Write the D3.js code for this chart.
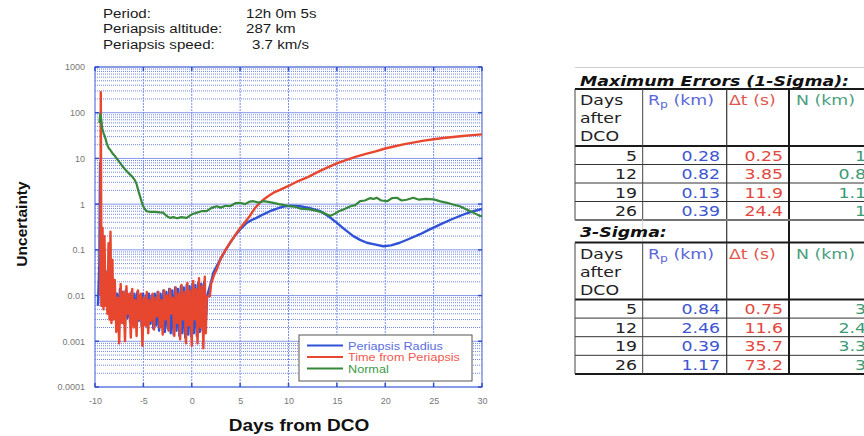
<!DOCTYPE html>
<html>
<head>
<meta charset="utf-8">
<script src="https://cdn.jsdelivr.net/npm/d3@7"></script>
<style>
  body { margin: 0; background: #fff; }
  svg { display: block; }
</style>
</head>
<body>
<svg id="chart" width="864" height="436"></svg>
<script>
// ---- Orbit summary ----
const infoLabels = ["Period:", "Periapsis altitude:", "Periapsis speed:"];
const infoValues = ["12h 0m 5s", "287 km", "3.7 km/s"];

// ---- Axis ticks ----
const xTicks = [-10, -5, 0, 5, 10, 15, 20, 25, 30];
const yTicks = [0.0001, 0.001, 0.01, 0.1, 1, 10, 100, 1000];
const yTickLabels = ["0.0001", "0.001", "0.01", "0.1", "1", "10", "100", "1000"];

// ---- Series: [days from DCO, 1-sigma uncertainty] ----
const radiusPts = [
  [-9.70, 0.006], [-9.55, 0.05], [-9.48, 8], [-9.42, 0.4], [-9.30, 0.006], [-9.15, 0.012],
  [-9.00, 0.008], [-8.85, 0.02], [-8.70, 0.035], [-8.58, 0.028], [-8.45, 0.008], [-8.30, 0.005],
  [-8.175, 0.0035], [-8.025, 0.014], [-7.875, 0.003], [-7.725, 0.011], [-7.575, 0.0026],
  [-7.425, 0.014], [-7.275, 0.0030], [-7.125, 0.012], [-6.975, 0.0024], [-6.825, 0.013],
  [-6.675, 0.0032], [-6.525, 0.010], [-6.375, 0.0026], [-6.225, 0.012], [-6.075, 0.0030],
  [-5.925, 0.011], [-5.775, 0.0022], [-5.625, 0.012], [-5.475, 0.0028], [-5.325, 0.010],
  [-5.175, 0.0021], [-5.025, 0.011], [-4.875, 0.0026], [-4.725, 0.010], [-4.575, 0.0020],
  [-4.425, 0.011], [-4.275, 0.0024], [-4.125, 0.010], [-3.975, 0.0019], [-3.825, 0.011],
  [-3.675, 0.0022], [-3.525, 0.012], [-3.375, 0.0017], [-3.225, 0.011], [-3.075, 0.0020],
  [-2.925, 0.013], [-2.775, 0.0016], [-2.625, 0.012], [-2.475, 0.0019], [-2.325, 0.014],
  [-2.175, 0.0015], [-2.025, 0.013], [-1.875, 0.0014], [-1.725, 0.015], [-1.575, 0.0017],
  [-1.425, 0.014], [-1.275, 0.0013], [-1.125, 0.016], [-0.975, 0.0015], [-0.825, 0.015],
  [-0.675, 0.0012], [-0.525, 0.017], [-0.375, 0.0014], [-0.225, 0.016], [-0.075, 0.0013],
  [0.075, 0.018], [0.225, 0.0015], [0.375, 0.017], [0.525, 0.0013], [0.675, 0.019],
  [0.825, 0.0016], [0.975, 0.018], [1.125, 0.0017], [1.275, 0.020], [1.425, 0.0020],
  [1.60, 0.010], [2.00, 0.020], [2.24, 0.032], [2.60, 0.045], [3.00, 0.065], [3.50, 0.10],
  [3.95, 0.14], [4.50, 0.21], [5.00, 0.28], [5.68, 0.39], [6.20, 0.45], [6.70, 0.50],
  [7.40, 0.60], [8.09, 0.70], [8.80, 0.80], [9.46, 0.88], [10.2, 0.92], [11.2, 0.90],
  [12.2, 0.82], [13.3, 0.70], [14.2, 0.53], [15.0, 0.39], [15.8, 0.28], [16.7, 0.20],
  [17.4, 0.165], [18.1, 0.143], [19.0, 0.13], [19.8, 0.12], [20.6, 0.125], [21.5, 0.143],
  [22.5, 0.175], [23.6, 0.22], [24.6, 0.28], [25.7, 0.36], [26.7, 0.45], [27.7, 0.55],
  [28.5, 0.64], [29.1, 0.70], [30.0, 0.79]
];

const timePts = [
  [-9.45, 0.01], [-9.40, 280], [-9.33, 0.006], [-9.22, 0.3], [-9.12, 0.005], [-9.02, 0.2],
  [-8.92, 0.006], [-8.82, 0.03], [-8.72, 0.004], [-8.60, 0.14], [-8.50, 0.003], [-8.40, 0.25],
  [-8.30, 0.0025], [-8.20, 0.06],
  [-8.10, 0.0030], [-7.95, 0.022], [-7.80, 0.0016], [-7.65, 0.009], [-7.50, 0.0009],
  [-7.35, 0.018], [-7.20, 0.0025], [-7.05, 0.012], [-6.90, 0.0010], [-6.75, 0.016],
  [-6.60, 0.0040], [-6.45, 0.011], [-6.30, 0.0012], [-6.15, 0.014], [-6.00, 0.0020],
  [-5.85, 0.008], [-5.70, 0.0013], [-5.55, 0.013], [-5.40, 0.0030], [-5.25, 0.011],
  [-5.10, 0.0008], [-4.95, 0.009], [-4.80, 0.0022], [-4.65, 0.012], [-4.50, 0.0015],
  [-4.35, 0.008], [-4.20, 0.0028], [-4.05, 0.011], [-3.90, 0.0018], [-3.75, 0.009],
  [-3.60, 0.0035], [-3.45, 0.012], [-3.30, 0.0020], [-3.15, 0.008], [-3.00, 0.0014],
  [-2.85, 0.013], [-2.70, 0.0030], [-2.55, 0.010], [-2.40, 0.0017], [-2.25, 0.014],
  [-2.10, 0.0040], [-1.95, 0.009], [-1.80, 0.0013], [-1.65, 0.015], [-1.50, 0.0025],
  [-1.35, 0.011], [-1.20, 0.0011], [-1.05, 0.017], [-0.90, 0.0030], [-0.75, 0.012],
  [-0.60, 0.0009], [-0.45, 0.019], [-0.30, 0.0022], [-0.15, 0.013], [0.00, 0.0008],
  [0.15, 0.021], [0.30, 0.0030], [0.45, 0.014], [0.60, 0.0009], [0.75, 0.024],
  [0.90, 0.0020], [1.05, 0.016], [1.20, 0.0007], [1.35, 0.026], [1.45, 0.0015],
  [1.55, 0.0095], [1.88, 0.0098], [2.00, 0.018], [2.30, 0.028], [2.58, 0.037], [3.00, 0.065],
  [3.50, 0.10], [3.95, 0.143], [4.50, 0.21], [5.00, 0.30], [5.50, 0.40], [6.00, 0.55],
  [6.50, 0.80], [7.00, 1.05], [7.50, 1.30], [8.00, 1.55], [8.50, 1.80], [9.00, 2.00],
  [10.0, 2.50], [11.0, 3.20], [12.0, 3.90], [13.0, 5.00], [14.0, 6.30], [15.0, 7.80],
  [16.0, 9.30], [17.0, 11.0], [18.0, 12.6], [19.0, 14.3], [20.0, 16.5], [21.0, 18.5],
  [22.0, 20.5], [23.0, 22.5], [24.0, 24.5], [25.0, 26.3], [26.0, 28.0], [27.0, 29.5],
  [28.0, 31.0], [29.0, 32.3], [30.0, 33.5]
];

const normalPts = [
  [-9.55, 60], [-9.45, 95], [-9.35, 70], [-9.25, 45], [-9.10, 35], [-8.97, 30], [-8.80, 22],
  [-8.60, 17], [-8.45, 15.7], [-8.20, 13], [-7.90, 11], [-7.60, 9], [-7.42, 8.0], [-7.10, 6.5],
  [-6.80, 5.5], [-6.50, 4.7], [-6.20, 4.1], [-5.90, 3.4], [-5.69, 2.7], [-5.50, 1.9],
  [-5.35, 1.5], [-5.10, 1.0], [-4.90, 0.80], [-4.66, 0.70], [-4.30, 0.68], [-3.80, 0.68],
  [-3.30, 0.66], [-2.94, 0.65], [-2.60, 0.55], [-2.25, 0.50], [-1.90, 0.52], [-1.50, 0.49],
  [-1.10, 0.52], [-0.52, 0.50], [0.00, 0.60], [0.51, 0.65], [1.00, 0.70], [1.54, 0.70],
  [2.00, 0.82], [2.58, 0.90], [3.00, 0.84], [3.50, 0.92], [3.95, 0.90], [4.50, 1.05],
  [4.99, 1.07], [5.50, 1.00], [6.00, 1.14], [6.36, 1.16], [6.90, 1.08], [7.40, 1.16],
  [7.90, 1.12], [8.43, 1.07], [9.00, 1.00], [9.60, 0.95], [10.16, 0.90], [10.7, 0.88],
  [11.2, 0.80], [12.2, 0.77], [12.8, 0.72], [13.6, 0.65], [14.3, 0.55], [14.8, 0.62],
  [15.2, 0.70], [15.8, 0.78], [16.4, 0.90], [16.9, 0.95], [17.4, 1.16], [17.9, 1.20],
  [18.4, 1.35], [18.8, 1.30], [19.1, 1.38], [19.6, 1.20], [20.2, 1.16], [20.7, 1.35],
  [21.2, 1.38], [21.7, 1.20], [22.2, 1.25], [22.9, 1.38], [23.5, 1.25], [24.2, 1.30],
  [25.0, 1.27], [25.7, 1.15], [26.4, 1.07], [27.0, 0.98], [27.7, 0.90], [28.3, 0.78],
  [28.8, 0.70], [29.3, 0.62], [29.8, 0.55], [30.0, 0.55]
];

const seriesNames = ["Periapsis Radius", "Time from Periapsis", "Normal"];
const seriesColors = ["#2f52d6", "#e8472f", "#36883a"];
const legendTextColors = ["#5a6ee0", "#ee5a50", "#3f9a4a"];

// ---- Error table ----
const tableDays = ["5", "12", "19", "26"];
const oneSigmaRp = ["0.28", "0.82", "0.13", "0.39"];
const oneSigmaDt = ["0.25", "3.85", "11.9", "24.4"];
const oneSigmaN = ["1", "0.8", "1.1", "1"];
const threeSigmaRp = ["0.84", "2.46", "0.39", "1.17"];
const threeSigmaDt = ["0.75", "11.6", "35.7", "73.2"];
const threeSigmaN = ["3", "2.4", "3.3", "3"];

const svg = d3.select("#chart");
const sans = "'Liberation Sans', Arial, sans-serif";
const verdana = "'DejaVu Sans', Verdana, sans-serif";

// text with a horizontal stretch
function stext(g, x, y, str, opts = {}) {
  const t = g.append("text")
    .attr("transform", `translate(${x},${y}) scale(${opts.sx || 1},1)`)
    .attr("font-family", opts.family || sans)
    .attr("font-size", opts.size || 13)
    .attr("fill", opts.fill || "#222")
    .attr("text-anchor", opts.anchor || "start");
  if (opts.weight) t.attr("font-weight", opts.weight);
  if (opts.style) t.attr("font-style", opts.style);
  t.text(str);
  return t;
}

// ---- Header block ----
const info = svg.append("g");
infoLabels.forEach((s, i) => {
  stext(info, 103, 18 + i * 15.3, s, { size: 13.5, sx: 1.12, fill: "#1a1a1a" });
});
const infoX = [246, 246, 252];
infoValues.forEach((s, i) => {
  stext(info, infoX[i], 18 + i * 15.3, s, { size: 13.5, sx: 1.12, fill: "#1a1a1a" });
});

// ---- Plot ----
const x = d3.scaleLinear().domain([-10, 30]).range([95, 482]);
const y = d3.scaleLog().domain([0.0001, 1000]).range([387, 67]);
const [x0, x1] = x.range();
const [yb, yt] = y.range();

const grid = svg.append("g");
// minor horizontal grid
const minor = [];
yTicks.slice(0, -1).forEach(d => { for (let k = 2; k <= 9; k++) minor.push(d * k); });
grid.selectAll("line.minor").data(minor).join("line")
  .attr("x1", x0).attr("x2", x1)
  .attr("y1", d => y(d)).attr("y2", d => y(d))
  .attr("stroke", "#7088e4").attr("stroke-width", 1)
  .attr("stroke-dasharray", "1,1");
// decade lines
grid.selectAll("line.major").data(yTicks).join("line")
  .attr("x1", x0).attr("x2", x1)
  .attr("y1", d => y(d)).attr("y2", d => y(d))
  .attr("stroke", "#8598e8").attr("stroke-width", 1);
// vertical grid
grid.selectAll("line.vert").data(xTicks.slice(1, -1)).join("line")
  .attr("x1", d => x(d)).attr("x2", d => x(d))
  .attr("y1", yt).attr("y2", yb)
  .attr("stroke", "#7a8fe6").attr("stroke-width", 1)
  .attr("stroke-dasharray", "2,1");

// frame
svg.append("rect").attr("x", x0).attr("y", yt).attr("width", x1 - x0).attr("height", yb - yt)
  .attr("fill", "none").attr("stroke", "#6c82de").attr("stroke-width", 1.3);

// inner tick marks
const tk = svg.append("g").attr("stroke", "#2f4fcf").attr("stroke-width", 1.5);
yTicks.forEach(d => {
  tk.append("line").attr("x1", x0).attr("x2", x0 + 4).attr("y1", y(d)).attr("y2", y(d));
  tk.append("line").attr("x1", x1 - 4).attr("x2", x1).attr("y1", y(d)).attr("y2", y(d));
});
xTicks.forEach(d => {
  tk.append("line").attr("x1", x(d)).attr("x2", x(d)).attr("y1", yb).attr("y2", yb - 4);
  tk.append("line").attr("x1", x(d)).attr("x2", x(d)).attr("y1", yt).attr("y2", yt + 4);
});

// axes (labels only)
const yAxis = d3.axisLeft(y).tickValues(yTicks).tickSize(0).tickPadding(10)
  .tickFormat((d, i) => yTickLabels[i]);
const gy = svg.append("g").attr("transform", `translate(${x0},0)`).call(yAxis);
const xAxis = d3.axisBottom(x).tickValues(xTicks).tickSize(0).tickPadding(11)
  .tickFormat(d => String(d));
const gx = svg.append("g").attr("transform", `translate(0,${yb})`).call(xAxis);
[gx, gy].forEach(g => {
  g.select(".domain").remove();
  g.selectAll("text").attr("font-family", sans).attr("font-size", 9).attr("fill", "#777");
});

// axis titles
stext(svg, 299, 431, "Days from DCO", { size: 17, weight: "bold", anchor: "middle", sx: 1.12, fill: "#111" });
svg.append("text")
  .attr("transform", "translate(27,224) rotate(-90)")
  .attr("text-anchor", "middle").attr("font-family", sans)
  .attr("font-size", 15.5).attr("font-weight", "bold").attr("fill", "#111")
  .text("Uncertainty");

// data lines
const line = d3.line().x(d => x(d[0])).y(d => y(d[1]));
const plot = svg.append("g");
const widths = [2.4, 2.4, 2.2];
[radiusPts, timePts, normalPts].forEach((pts, i) => {
  plot.append("path").datum(pts)
    .attr("d", line)
    .attr("fill", "none")
    .attr("stroke", seriesColors[i])
    .attr("stroke-width", widths[i])
    .attr("stroke-linejoin", "round");
});

// legend
const lg = svg.append("g");
lg.append("rect").attr("x", 299).attr("y", 335).attr("width", 173).attr("height", 46)
  .attr("fill", "#fff").attr("stroke", "#555").attr("stroke-width", 1);
seriesNames.forEach((name, i) => {
  const ly = 345.5 + i * 11.5;
  lg.append("line").attr("x1", 307).attr("x2", 343).attr("y1", ly).attr("y2", ly)
    .attr("stroke", seriesColors[i]).attr("stroke-width", 2);
  stext(lg, 348, ly + 4, name, { size: 11, sx: 1.15, fill: legendTextColors[i] });
});

// ---- Error table ----
const tb = svg.append("g");
const tsx = 1.24;
const colX = [575, 642.7, 726.7, 789];
const tRight = 864;

function hline(yy, w, c) {
  tb.append("line").attr("x1", 575).attr("x2", tRight).attr("y1", yy).attr("y2", yy)
    .attr("stroke", c).attr("stroke-width", w);
}
function vline(xx, ya, yb2, w, c) {
  tb.append("line").attr("x1", xx).attr("x2", xx).attr("y1", ya).attr("y2", yb2)
    .attr("stroke", c).attr("stroke-width", w);
}

function block(top, title, titleBase, rowsTop, rowH, rp, dt, nn) {
  hline(top, 1, "#cfcfcf");
  stext(tb, 580, titleBase, title, { family: verdana, size: 14, weight: "bold", style: "italic", sx: tsx, fill: "#111" });
  const hdrTop = rowsTop - 57;
  hline(hdrTop, 2, "#1a1a1a");
  ["Days", "after", "DCO"].forEach((s, i) => {
    stext(tb, 580, hdrTop + 16 + i * 18, s, { family: verdana, size: 14, sx: tsx, fill: "#222" });
  });
  const rpT = stext(tb, 648, hdrTop + 16, "R", { family: verdana, size: 14, sx: tsx, fill: "#5b66d8" });
  rpT.append("tspan").attr("font-size", 10).attr("dy", 3).text("p");
  rpT.append("tspan").attr("dy", -3).text(" (km)");
  stext(tb, 729, hdrTop + 16, "\u0394t (s)", { family: verdana, size: 14, sx: tsx, fill: "#e2574f" });
  stext(tb, 796, hdrTop + 16, "N (km)", { family: verdana, size: 14, sx: tsx, fill: "#4a9f82" });
  hline(rowsTop, 2, "#1a1a1a");
  tableDays.forEach((d, i) => {
    const base = rowsTop + 14.5 + i * rowH;
    stext(tb, 637, base, d, { family: verdana, size: 14, sx: tsx, anchor: "end", fill: "#222" });
    stext(tb, 720, base, rp[i], { family: verdana, size: 14, sx: tsx, anchor: "end", fill: "#3e55d2" });
    stext(tb, 783, base, dt[i], { family: verdana, size: 14, sx: tsx, anchor: "end", fill: "#e2483e" });
    stext(tb, 866, base, nn[i], { family: verdana, size: 14, sx: tsx, anchor: "end", fill: "#3c9a74" });
    if (i > 0) hline(rowsTop + i * rowH, 1, "#333");
  });
  const bottom = rowsTop + 4 * rowH;
  hline(bottom, 2, "#1a1a1a");
  vline(colX[0], hdrTop, bottom, 1, "#444");
  vline(colX[1], hdrTop, bottom, 1, "#444");
  vline(colX[2], hdrTop, bottom, 1.2, "#333");
  vline(colX[3], hdrTop, bottom, 2, "#1a1a1a");
  return bottom;
}

const b1 = block(67.5, "Maximum Errors (1-Sigma):", 85.5, 146, 18.5, oneSigmaRp, oneSigmaDt, oneSigmaN);
// the 3-sigma title row shares the column rules of the value columns
vline(colX[2], b1, 243, 1.2, "#333");
vline(colX[3], b1, 243, 2, "#1a1a1a");
vline(colX[1], b1, 243, 1, "#d6d6d6");
block(b1, "3-Sigma:", 237, 299.5, 18.6, threeSigmaRp, threeSigmaDt, threeSigmaN);
</script>
</body>
</html>
